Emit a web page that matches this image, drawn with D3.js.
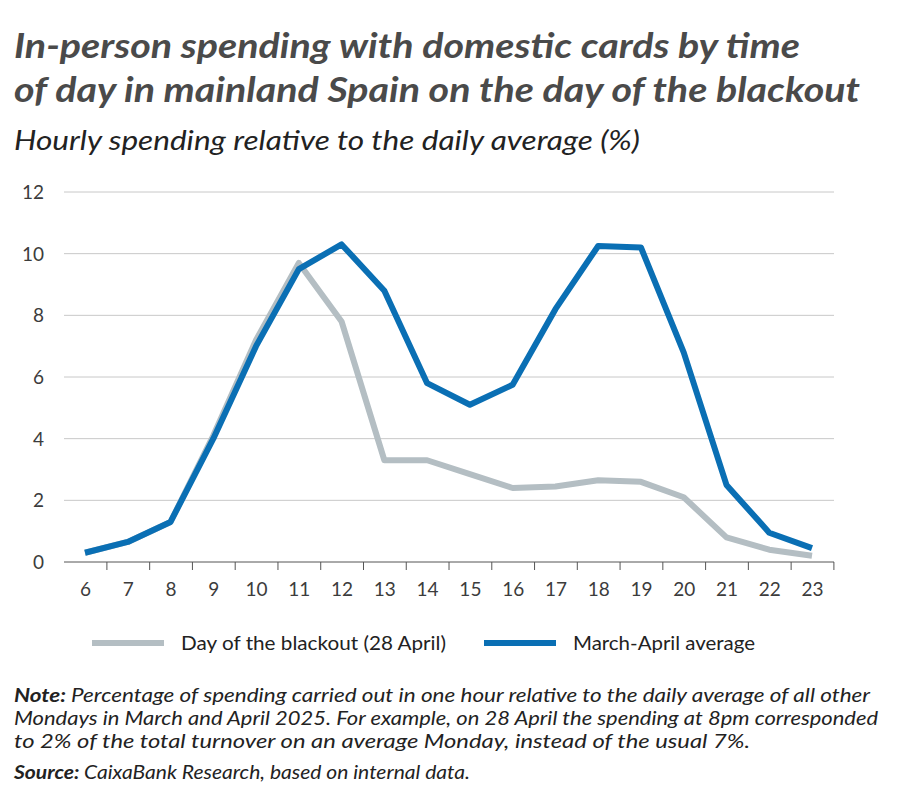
<!DOCTYPE html>
<html><head><meta charset="utf-8">
<script src="https://cdn.jsdelivr.net/npm/d3@7"></script>
<style>body{margin:0;background:#fff;font-family:Lato,"Open Sans",sans-serif;}</style>
</head><body>
<svg id="chart" width="900" height="800"></svg>
<script>
// hours of the day
const hours = [6,7,8,9,10,11,12,13,14,15,16,17,18,19,20,21,22,23];
// day of the blackout (28 April)
const blackout = [0.3,0.65,1.3,4.1,7.2,9.7,7.8,3.3,3.3,2.85,2.4,2.45,2.65,2.6,2.1,0.8,0.4,0.2];
// March-April average
const average = [0.3,0.65,1.3,4.0,7.0,9.5,10.3,8.8,5.8,5.1,5.75,8.2,10.25,10.2,6.8,2.5,0.95,0.45];
const yTicks = [0,2,4,6,8,10,12];

const svg = d3.select("#chart");
const dark = "#3c3c3c";

// text with a fixed width so it lines up with the original
const txt = (x, y, size, w, str, opts = {}) => svg.append("text").attr("x", x).attr("y", y)
  .style("font-size", size + "px").style("font-style", opts.italic ? "italic" : "normal")
  .style("font-weight", opts.bold ? "bold" : "normal").attr("fill", opts.fill || "#222")
  .attr("textLength", w).attr("lengthAdjust", "spacingAndGlyphs").text(str);

// titles
txt(14, 58, 34, 786, "In-person spending with domestic cards by time", {bold: true, italic: true, fill: "#4a4a4a"});
txt(14, 102, 34, 846, "of day in mainland Spain on the day of the blackout", {bold: true, italic: true, fill: "#4a4a4a"});
txt(14, 150, 27, 626, "Hourly spending relative to the daily average (%)", {italic: true});

const x = d3.scalePoint().domain(hours).range([85, 812]);
const y = d3.scaleLinear().domain([0, 12]).range([562, 192]);

// gridlines
svg.append("g").selectAll("line").data(yTicks.filter(d => d > 0)).enter().append("line")
  .attr("x1", 64).attr("x2", 834).attr("y1", d => y(d)).attr("y2", d => y(d))
  .attr("stroke", "#c8c8c8").attr("stroke-width", 1);

// x axis
const xa = svg.append("g").attr("transform", "translate(0," + y(0) + ")")
  .call(d3.axisBottom(x).tickSize(8).tickSizeOuter(0));
xa.select(".domain").attr("d", "M64,0H834").attr("stroke", "#555");
xa.selectAll(".tick line").attr("stroke", "#555").attr("transform", "translate(21.4,0)");
xa.selectAll("text").style("font-size", "19px").style("font-family", "Lato,sans-serif")
  .attr("fill", dark).attr("dy", "1.2em");

// y labels
svg.append("g").selectAll("text").data(yTicks).enter().append("text")
  .attr("x", 44).attr("y", d => y(d) + 7).attr("text-anchor", "end")
  .style("font-size", "19px").attr("fill", dark).text(d => d);

const line = d3.line().x((d, i) => x(hours[i])).y(d => y(d));
svg.append("path").datum(blackout).attr("d", line).attr("fill", "none")
  .attr("stroke", "#b4bec3").attr("stroke-width", 6).attr("stroke-linejoin", "round");
svg.append("path").datum(average).attr("d", line).attr("fill", "none")
  .attr("stroke", "#0a6fb4").attr("stroke-width", 6).attr("stroke-linejoin", "round");

// legend
const leg = [["Day of the blackout (28 April)", "#b4bec3", 92, 265], ["March-April average", "#0a6fb4", 484, 182]];
leg.forEach(l => {
  svg.append("line").attr("x1", l[2]).attr("x2", l[2] + 72).attr("y1", 643).attr("y2", 643)
    .attr("stroke", l[1]).attr("stroke-width", 6);
  txt(l[2] + 89, 650, 19, l[3], l[0]);
});

// notes
const noteLines = [
  ["Note: ", "Percentage of spending carried out in one hour relative to the daily average of all other", 856],
  ["", "Mondays in March and April 2025. For example, on 28 April the spending at 8pm corresponded", 864],
  ["", "to 2% of the total turnover on an average Monday, instead of the usual 7%.", 736],
  ["Source: ", "CaixaBank Research, based on internal data.", 456]
];
noteLines.forEach((n, i) => {
  const t = svg.append("text").attr("x", 14).attr("y", i < 3 ? 702 + i * 23 : 779)
    .style("font-size", "19px").style("font-style", "italic").attr("fill", "#222")
    .attr("textLength", n[2]).attr("lengthAdjust", "spacingAndGlyphs");
  if (n[0]) t.append("tspan").style("font-weight", "bold").text(n[0]);
  t.append("tspan").text(n[1]);
});
</script>
</body></html>
